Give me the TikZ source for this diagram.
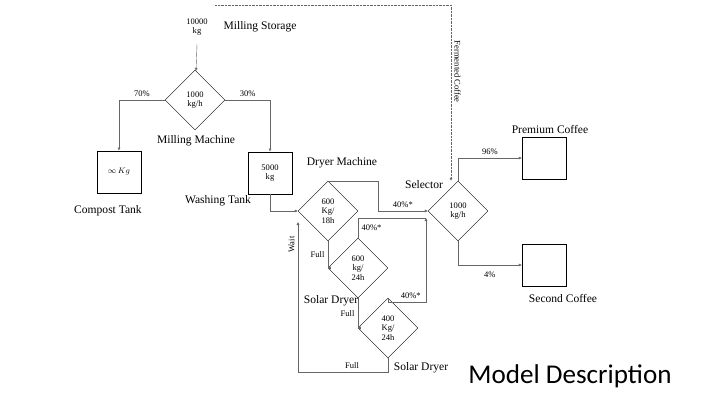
\documentclass[tikz,border=0pt]{standalone}
\usepackage{fontspec}
\setmainfont{Liberation Serif}
\newfontfamily\titlefont{Carlito}
\usetikzlibrary{shapes.geometric,arrows.meta}
\begin{document}
\begin{tikzpicture}[x=0.035cm,y=-0.035cm,
  unit/.style={shape=diamond,draw=black,minimum size=60*0.035cm,inner sep=0pt,align=center,font=\fontsize{8.5}{9.5}\selectfont},
  tank/.style={shape=rectangle,draw=black,thick,minimum width=44*0.035cm,minimum height=42*0.035cm,align=center,font=\fontsize{8.5}{9.5}\selectfont},
  lbl/.style={font=\fontsize{11.5}{13}\selectfont},
  pct/.style={font=\fontsize{8.5}{9.5}\selectfont},
  flow/.style={draw=black!60,-{Latex[length=3pt,width=3pt]}}]
                \useasboundingbox (0,0) rectangle (720,405);
                \node[align=center,pct] (1) at (197,27) {10000\\kg};
                \node[lbl] (store) at (260,27) {Milling Storage};
                \node[unit] (2) at (195,100) {1000\\kg/h};
                \node[lbl] (mill) at (196,141) {Milling Machine};
                \node[tank] (3) at (119,172) {$\infty\,Kg$};
                \node[lbl] (compost) at (108,211) {Compost Tank};
                \node[tank] (4) at (270,173) {5000\\kg};
                \node[lbl] (wash) at (218,201) {Washing Tank};
                \node[unit] (5) at (328,211) {600\\Kg/\\18h};
                \node[lbl] (dryer) at (342,163) {Dryer Machine};
                \node[unit] (6) at (358,268) {600\\kg/\\24h};
                \node[lbl] (solar1) at (331,301) {Solar Dryer};
                \node[unit] (7) at (388,328) {400\\Kg/\\24h};
                \node[lbl] (solar2) at (421,368) {Solar Dryer};
                \node[unit] (8) at (458,211) {1000\\kg/h};
                \node[lbl] (sel) at (424,185) {Selector};
                \node[tank,thin] (9) at (544,158) {};
                \node[lbl] (prem) at (550,129) {Premium Coffee};
                \node[tank,thin] (10) at (544,265) {};
                \node[lbl] (second) at (563,298) {Second Coffee};
                \node[font=\titlefont\fontsize{27}{30}\selectfont] (title) at (570,376) {Model Description};
                \coordinate (ferm) at (215,5);

                \draw[flow] ([yshift=-5*0.035cm]1.south) -- (2);
                \draw[flow] (2.west) -| node[pct,pos=0.25,above] {70\%} (3.north);
                \draw[flow] (2.east) -| node[pct,pos=0.25,above] {30\%} (4.north);
                \draw[flow] (4.south) |- (5.west);
                \draw[flow] (5.north) -| (378,211) -- node[pct,above] {40\%*} (8.west);
                \draw[flow,densely dotted] (ferm) -| node[pct,pos=0.69,rotate=-90,anchor=south,solid] {Fermented Coffee} ([xshift=-7*0.035cm]8.north);
                \draw[flow] (8.north) |- node[pct,pos=0.75,above] {96\%} (9.west);
                \draw[flow] (8.south) |- node[pct,pos=0.75,below=3pt] {4\%} (10.west);
                \draw[flow] (5.south) -- node[pct,left] {Full} (328,268) -- (6.west);
                \draw[flow] (6.south) -- node[pct,left] {Full} (358,328) -- (7.west);
                \draw[draw=black!60] (6.north) |- node[pct,pos=0.25,right] {40\%*} (426,218);
                \draw[flow] (7.north) |- node[pct,pos=0.8,above] {40\%*} (426,302) -- (426,218);
                \draw[flow] (7.south) |- node[pct,pos=0.7,above] {Full} (298,372) -- node[pct,pos=0.85,above,rotate=90] {Wait} (298,222);
            \end{tikzpicture}
\end{document}
